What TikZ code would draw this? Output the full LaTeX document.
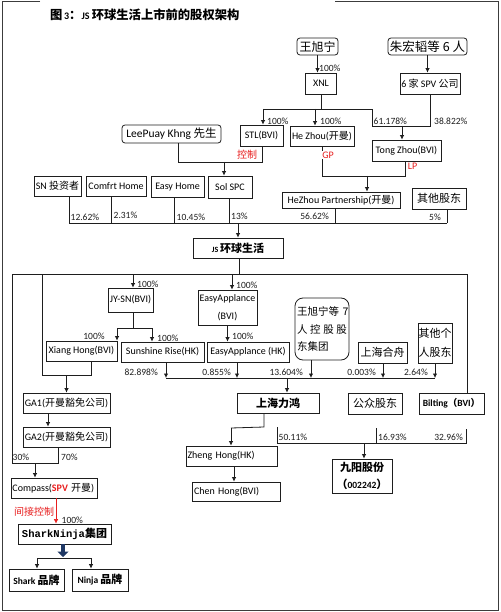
\documentclass[tikz,border=0pt]{standalone}
\usepackage{fontspec}
\setmainfont{Carlito}
\newfontfamily\cjk{Noto Sans CJK SC}
\newfontfamily\monof{Liberation Mono}
\usetikzlibrary{arrows.meta}
\newcommand\zh[1]{{\cjk #1}}
\definecolor{redc}{RGB}{232,30,30}
\definecolor{navyc}{RGB}{31,56,100}
\definecolor{lcol}{RGB}{30,30,30}
\definecolor{framec}{RGB}{60,60,60}
\tikzset{
  bx/.style={draw=lcol, line width=0.8pt, inner sep=0pt, font=\fontsize{10}{12}\selectfont},
  rbx/.style={bx, rounded corners=3pt},
  sz/.style 2 args={minimum width=#1pt, minimum height=#2pt},
  conn/.style={draw=lcol, line width=0.8pt},
  arr/.style={conn, -{Latex[length=4.5pt,width=4.5pt]}},
  redarr/.style={draw=redc, line width=0.6pt, -{Latex[length=4.5pt,width=4.5pt]}},
  pct/.style={inner sep=0pt, font=\fontsize{9.5}{11}\selectfont, text=lcol},
  redtxt/.style={inner sep=0pt, text=redc, font=\fontsize{10}{12}\selectfont},
}
\begin{document}
\begin{tikzpicture}[x=1pt,y=-1pt]
\useasboundingbox (0,0) rectangle (500,612);
\fill[white] (0,0) rectangle (500,612);
% frame
\draw[framec, line width=1pt] (40,2) -- (2,2) -- (2,610) -- (498,610) -- (498,2) -- (335,2);
\node[inner sep=0pt, anchor=west, font=\bfseries\fontsize{12.3}{14}\selectfont] (title) at (50,15)
  {\zh{图}{\fontsize{10}{10}\selectfont\,3}\zh{：}{\fontsize{10}{10}\selectfont JS }\zh{环球生活上市前的股权架构}};

% ---- top level
\node[rbx, sz={41}{17}, font=\cjk\fontsize{12}{14}\selectfont] (wxn) at (317.5,46.5) {王旭宁};
\node[rbx, sz={79}{17}, font=\cjk\fontsize{12.5}{14}\selectfont] (zhu) at (427.5,46.5) {朱宏韬等 6 人};
\node[bx, sz={31}{21}] (xnl) at (321,83.5) {XNL};
\node[bx, sz={60}{21}] (spv6) at (430,83.5) {6 \zh{家} SPV \zh{公司}};
\node[bx, sz={43}{21}] (stl) at (261.5,135.5) {STL(BVI)};
\node[bx, sz={64}{20}] (hezhou) at (322,136) {He Zhou(\zh{开曼})};
\node[bx, sz={69}{21}] (tong) at (406.5,150.5) {Tong Zhou(BVI)};
\node[rbx, sz={99}{18}, font=\fontsize{11.5}{13}\selectfont] (lee) at (171.5,134) {LeePuay Khng \zh{先生}};

% ---- shareholders row
\node[bx, sz={47}{20}] (sn) at (57.5,186) {SN \zh{投资者}};
\node[bx, sz={60}{20}] (comf) at (116,186) {Comfrt Home};
\node[bx, sz={53}{21}] (easyh) at (177.5,187) {Easy Home};
\node[bx, sz={44}{22}] (sol) at (230,187) {Sol SPC};
\node[bx, sz={118}{16}] (hzp) at (341,200) {HeZhou Partnership(\zh{开曼})};
\node[bx, sz={54}{21}, font=\cjk\fontsize{11}{13}\selectfont] (qita) at (439,198.5) {其他股东};

\node[bx, sz={90}{20}, font=\bfseries\fontsize{11}{13}\selectfont] (js) at (238,248)
  {{\fontsize{8}{10}\selectfont JS }\zh{环球生活}};

% ---- second tier
\node[bx, sz={45}{24}] (jysn) at (130.5,300) {JY-SN(BVI)};
\node[bx, sz={59}{35}, align=center, font=\fontsize{10}{18}\selectfont] (eabvi) at (227.5,307.5) {EasyApplance\\(BVI)};
\node[bx, sz={71}{20}] (xh) at (81.5,351) {Xiang Hong(BVI)};
\node[bx, sz={83}{20}] (sr) at (162.5,352) {Sunshine Rise(HK)};
\node[bx, sz={82}{20}] (eahk) at (248,352) {EasyApplance (HK)};
\node[bx, rounded corners=8pt, sz={54}{62}, text width=50pt, align=left, inner xsep=2pt,
  font=\cjk\fontsize{10.5}{17.5}\selectfont] (wx7) at (322,329)
  {\makebox[50pt][l]{王旭宁等 7}\\\makebox[50pt][s]{人\hfill 控\hfill 股\hfill 股}\\东集团};
\node[bx, sz={49}{21}, font=\cjk\fontsize{11}{13}\selectfont] (shhz) at (382.5,352.5) {上海合舟};
\node[bx, sz={34}{40}, align=center, font=\cjk\fontsize{11}{19}\selectfont] (qtgr) at (435,343) {其他个\\人股东};

% ---- Shanghai Lihong tier
\node[bx, sz={82}{20}, font=\cjk\bfseries\fontsize{11}{13}\selectfont] (shlh) at (278,403) {上海力鸿};
\node[bx, sz={54}{21}, font=\cjk\fontsize{11}{13}\selectfont] (gzgd) at (375,403.5) {公众股东};
\node[bx, sz={65}{21}, font=\bfseries\fontsize{9.5}{12}\selectfont] (bilt) at (451.5,403.5) {Bilting\zh{（}BVI\zh{）}};
\node[bx, sz={91}{20}, text width=88pt, align=left, inner xsep=1.5pt] (zh) at (231.5,456) {Zheng Hong(HK)};
\node[bx, sz={88}{19}, text width=84pt, align=left, inner xsep=2pt] (ch) at (236,491.5) {Chen Hong(BVI)};
\node[bx, sz={60}{34}, align=center, font=\bfseries\fontsize{11}{17}\selectfont] (jy) at (362,476)
  {\zh{九阳股份}\\\zh{（}{\fontsize{9.5}{12}\selectfont 002242}\zh{）}};

% ---- left chain
\node[bx, sz={87}{20}] (ga1) at (66.5,403) {GA1(\zh{开曼豁免公司})};
\node[bx, sz={87}{20}] (ga2) at (66.5,437) {GA2(\zh{开曼豁免公司})};
\node[bx, sz={86}{20}, text width=83pt, align=left, inner xsep=1.5pt] (comp) at (54,488)
  {Compass(\textcolor{redc}{\bfseries SPV} \zh{开曼})};
\node[bx, sz={93}{20}, font=\bfseries\fontsize{11}{13}\selectfont] (sni) at (64.5,534)
  {{\monof\fontsize{10.5}{12}\selectfont SharkNinja}\zh{集团}};
\node[bx, sz={55}{22}, font=\bfseries\fontsize{9.5}{12}\selectfont] (shark) at (36.5,580) {Shark \zh{\fontsize{11}{12}\selectfont 品牌}};
\node[bx, sz={56}{22}, font=\bfseries\fontsize{9.5}{12}\selectfont] (ninja) at (100,580) {Ninja \zh{\fontsize{11}{12}\selectfont 品牌}};

% ================= connectors
% top
\draw[arr] (wxn.south) -- (wxn.south |- xnl.north);
\node[pct, anchor=west] (p1) at (319,68) {100\%};
\draw[arr] (zhu.south) -- (zhu.south |- spv6.north);

\coordinate (ja) at (263,109);
\coordinate (jh) at (315,109);
\coordinate (jb) at (372,109);
\coordinate (jc) at (372,126);
\coordinate (jd) at (430,126);
\coordinate (jt) at (402,126);
\draw[conn] (xnl.south) -- (xnl.south |- ja);
\draw[conn] (ja) -- (jb) -- (jc) -- (jd) -- (spv6.south);
\draw[arr] (ja) -- (ja |- stl.north);
\draw[arr] (jh) -- (jh |- hezhou.north);
\draw[arr] (jt) -- (jt |- tong.north);
\node[pct, anchor=west] (p2) at (267,121) {100\%};
\node[pct, anchor=west] (p3) at (320,121) {100\%};
\node[pct, anchor=west] (p4) at (373.5,121) {61.178\%};
\node[pct, anchor=west] (p5) at (434,121) {38.822\%};

% control
\coordinate (jl) at (178,162);
\coordinate (jm) at (262,162);
\coordinate (jk) at (224,162);
\draw[conn] (jl |- lee.south) -- (jl) -- (jm) -- (jm |- stl.south);
\draw[arr] (jk) -- (jk |- sol.north);
\node[redtxt, font=\cjk\fontsize{10}{12}\selectfont] (kz) at (247,155) {控制};

% GP / LP
\coordinate (jg1) at (322,176);
\coordinate (jg2) at (405,176);
\coordinate (jg3) at (367,176);
\draw[conn] (hezhou.south) -- (jg1) -- (jg2) -- (jg2 |- tong.south);
\draw[arr] (jg3) -- (jg3 |- hzp.north);
\node[redtxt, fill=white, inner sep=0.5pt] (gp) at (328,155) {GP};
\node[redtxt] (lp) at (412.5,166) {LP};

% shareholder bus into JS
\coordinate (b1) at (69,223);
\coordinate (b2) at (111,223);
\coordinate (b3) at (174,223);
\coordinate (b4) at (229,223);
\coordinate (b5) at (335,223);
\coordinate (b6) at (447,223);
\coordinate (bj) at (238,223);
\draw[conn] (b1) -- (b6);
\draw[conn] (b1) -- (b1 |- sn.south);
\draw[conn] (b2) -- (b2 |- comf.south);
\draw[conn] (b3) -- (b3 |- easyh.south);
\draw[conn] (b4) -- (b4 |- sol.south);
\draw[conn] (b5) -- (b5 |- hzp.south);
\draw[conn] (b6) -- (b6 |- qita.south);
\draw[arr] (bj) -- (bj |- js.north);
\node[pct, anchor=west] (q1) at (70.5,217) {12.62\%};
\node[pct, anchor=west] (q2) at (113.5,215.5) {2.31\%};
\node[pct, anchor=west] (q3) at (176.5,217) {10.45\%};
\node[pct, anchor=west] (q4) at (231,216) {13\%};
\node[pct, anchor=east] (q5) at (329,216.5) {56.62\%};
\node[pct, anchor=east] (q6) at (441,217) {5\%};

% JS distribution
\coordinate (dL) at (12,274);
\coordinate (d2) at (42,274);
\coordinate (d3) at (133,274);
\coordinate (d4) at (232,274);
\coordinate (dJ) at (239,274);
\coordinate (dR) at (467,274);
\draw[conn] (dJ |- js.south) -- (dJ);
\draw[conn] (dL) -- (dR) -- (dR |- bilt.north);
\draw[arr] (d3) -- (d3 |- jysn.north);
\draw[arr] (d4) -- (d4 |- eabvi.north);
\node[pct, anchor=west] (r1) at (137,284) {100\%};
\node[pct, anchor=west] (r2) at (236,285) {100\%};

% left chain to Compass
\coordinate (c30) at (12,463);
\coordinate (c70) at (58,463);
\coordinate (cc) at (35,463);
\draw[conn] (dL) -- (c30) -- (c70) -- (c70 |- ga2.south);
\draw[arr] (cc) -- (cc |- comp.north);
\node[pct, anchor=west] (r3) at (12.5,457.5) {30\%};
\node[pct, anchor=west] (r4) at (61,457) {70\%};

\coordinate (x1) at (42,375);
\coordinate (x2) at (91,375);
\coordinate (x3) at (66.5,375);
\draw[conn] (d2) -- (x1) -- (x2) -- (x2 |- xh.south);
\draw[arr] (x3) -- (x3 |- ga1.north);
\coordinate (g1) at (48,420);
\draw[arr] (g1 |- ga1.south) -- (g1 |- ga2.north);

% JY-SN split
\coordinate (s1) at (117,328);
\coordinate (s2) at (152,328);
\draw[conn] (d3 |- jysn.south) -- (d3 |- s1);
\draw[conn] (s1) -- (s2);
\draw[arr] (s1) -- (s1 |- xh.north);
\draw[arr] (s2) -- (s2 |- sr.north);
\node[pct] (r5) at (94,336) {100\%};
\node[pct, anchor=west] (r6) at (157,338) {100\%};
\draw[arr] (eabvi.south) -- (eabvi.south |- eahk.north);
\node[pct, anchor=west] (r7) at (232,336) {100\%};

% bus into Shanghai Lihong
\coordinate (u1) at (166,378);
\coordinate (u2) at (237,378);
\coordinate (u3) at (311,378);
\coordinate (u4) at (383,378);
\coordinate (u5) at (435,378);
\coordinate (u0) at (287,378);
\draw[conn] (u1) -- (u5);
\draw[arr] (u1 |- sr.south) -- (u1);
\draw[arr] (u2 |- eahk.south) -- (u2);
\draw[arr] (u3 |- wx7.south) -- (u3);
\draw[arr] (u4 |- shhz.south) -- (u4);
\draw[arr] (u5 |- qtgr.south) -- (u5);
\draw[arr] (u0) -- (u0 |- shlh.north);
\node[pct, anchor=east] (t1) at (158,372) {82.898\%};
\node[pct, anchor=east] (t2) at (231,372) {0.855\%};
\node[pct, anchor=east] (t3) at (303,372) {13.604\%};
\node[pct, anchor=east] (t4) at (376,372) {0.003\%};
\node[pct, anchor=east] (t5) at (428,372) {2.64\%};

% Shanghai Lihong down
\coordinate (l1) at (264,427);
\coordinate (l2) at (231,428);
\draw[conn] (l1 |- shlh.south) -- (l1) -- (l2);
\draw[arr] (l2) -- (l2 |- zh.north);
\coordinate (z1) at (234,470);
\draw[arr] (z1 |- zh.south) -- (z1 |- ch.north);

% bus into Joyoung
\coordinate (v1) at (277,427);
\coordinate (v2) at (277,443);
\coordinate (v3) at (466,443);
\coordinate (v4) at (466,429);
\coordinate (v5) at (376,428);
\coordinate (v6) at (376,443);
\coordinate (vj) at (364,443);
\draw[conn] (v1) -- (v2) -- (v3) -- (v4);
\draw[conn] (v5) -- (v6);
\draw[arr] (vj) -- (vj |- jy.north);
\node[pct, anchor=west] (w1) at (278.5,437) {50.11\%};
\node[pct, anchor=west] (w2) at (378,437.5) {16.93\%};
\node[pct, anchor=east] (w3) at (463,437) {32.96\%};

% Compass -> SharkNinja
\coordinate (rc) at (56,510);
\draw[redarr] (rc |- comp.south) -- (rc |- sni.north);
\node[redtxt, font=\cjk\fontsize{10}{12}\selectfont] (jjkz) at (34,512) {间接控制};
\node[pct, anchor=west] (w4) at (61.5,520) {100\%};

% fat arrow and brands
\coordinate (fa) at (63,557);
\draw[navyc, line width=4pt, -{Triangle[width=11pt,length=5.5pt]}] (fa |- sni.south) -- (fa);
\coordinate (k1) at (37,558);
\coordinate (k2) at (91,558);
\draw[conn] (k1) -- (k2);
\draw[arr] (k1) -- (k1 |- shark.north);
\draw[arr] (k2) -- (k2 |- ninja.north);
\end{tikzpicture}
\end{document}
